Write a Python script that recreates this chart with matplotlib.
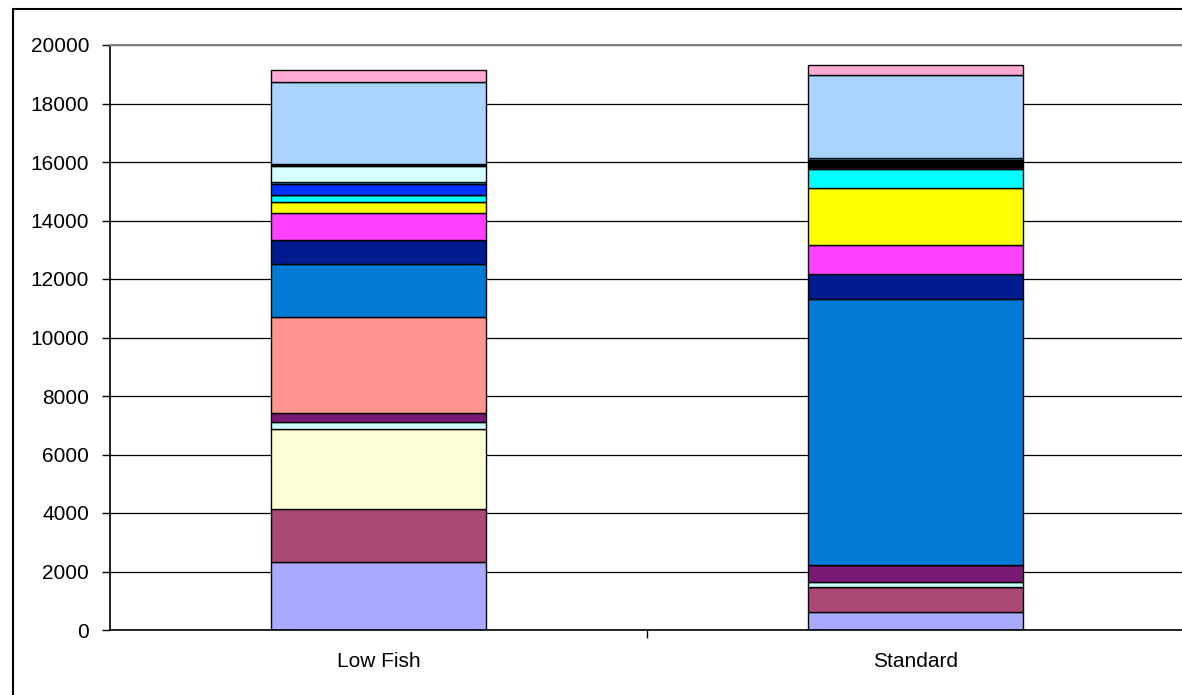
import matplotlib

matplotlib.use('Agg')

import matplotlib.pyplot as plt
from matplotlib.patches import Rectangle

plt.rcParams['font.family'] = ['Liberation Sans', 'DejaVu Sans']

# categories and stacked series, bottom to top
categories = ["Low Fish", "Standard"]

lavender = [2335, 615]
mauve = [1790, 866]
pale_yellow = [2746, 0]
pale_cyan_low = [250, 160]
plum = [297, 581]
salmon = [3271, 0]
ocean_blue = [1823, 9083]
navy = [820, 877]
magenta = [923, 980]
yellow = [388, 1960]
cyan = [228, 628]
violet = [0, 80]
royal_blue = [365, 0]
sky_teal = [91, 0]
pale_cyan_high = [525, 0]
black = [90, 238]
sky_teal_top = [0, 69]
light_blue = [2792, 2837]
pink = [410, 342]

series = [
    (lavender, "#AAAAFF"),
    (mauve, "#AA4A74"),
    (pale_yellow, "#FFFFD5"),
    (pale_cyan_low, "#CCFFFF"),
    (plum, "#7B1A74"),
    (salmon, "#FF9590"),
    (ocean_blue, "#007AD4"),
    (navy, "#001A90"),
    (magenta, "#FF40FF"),
    (yellow, "#FFFF00"),
    (cyan, "#00FFFF"),
    (violet, "#80208A"),
    (royal_blue, "#0033FF"),
    (sky_teal, "#1AAFD4"),
    (pale_cyan_high, "#D5FFFF"),
    (black, "#000000"),
    (sky_teal_top, "#1AAFD4"),
    (light_blue, "#AAD4FF"),
    (pink, "#FFAAD4"),
]

fig = plt.figure(figsize=(11.82, 6.95), dpi=100)
ax = fig.add_axes([110 / 1182, 65 / 695, 1074 / 1182, 585 / 695])

x = list(range(len(categories)))
bottom = [0] * len(categories)
for values, color in series:
    ax.bar(x, values, width=0.4, bottom=bottom, color=color,
           edgecolor="black", linewidth=1.0, zorder=2)
    bottom = [b + v for b, v in zip(bottom, values)]

ax.set_xlim(-0.5, 1.5)
ax.set_ylim(0, 20000)
ax.set_yticks(range(0, 20001, 2000))
ax.yaxis.grid(True, color="black", linewidth=0.9, zorder=0)
ax.set_axisbelow(True)

# category labels in the middle, tick marks on the boundaries
ax.set_xticks([0.5])
ax.set_xticklabels([])
ax.set_xticks(x, minor=True)
ax.set_xticklabels(categories, minor=True)
ax.tick_params(axis="x", which="major", length=6, width=1, direction="out")
ax.tick_params(axis="x", which="minor", length=0, pad=16, labelsize=15)
ax.tick_params(axis="y", length=6, width=1, pad=9, labelsize=15)

for side in ("left", "bottom"):
    ax.spines[side].set_linewidth(1.2)
ax.spines["right"].set_visible(False)
ax.spines["top"].set_color("#808080")
ax.spines["top"].set_linewidth(1.5)
ax.spines["top"].set_zorder(3)

# outer chart border, cut off at the right and bottom
fig.patches.append(Rectangle((13 / 1182, -0.1), 1.2, (695 - 9) / 695 + 0.1,
                             transform=fig.transFigure, fill=False,
                             edgecolor="black", linewidth=1.5))

fig.savefig("out.png", dpi=100, facecolor="white")
